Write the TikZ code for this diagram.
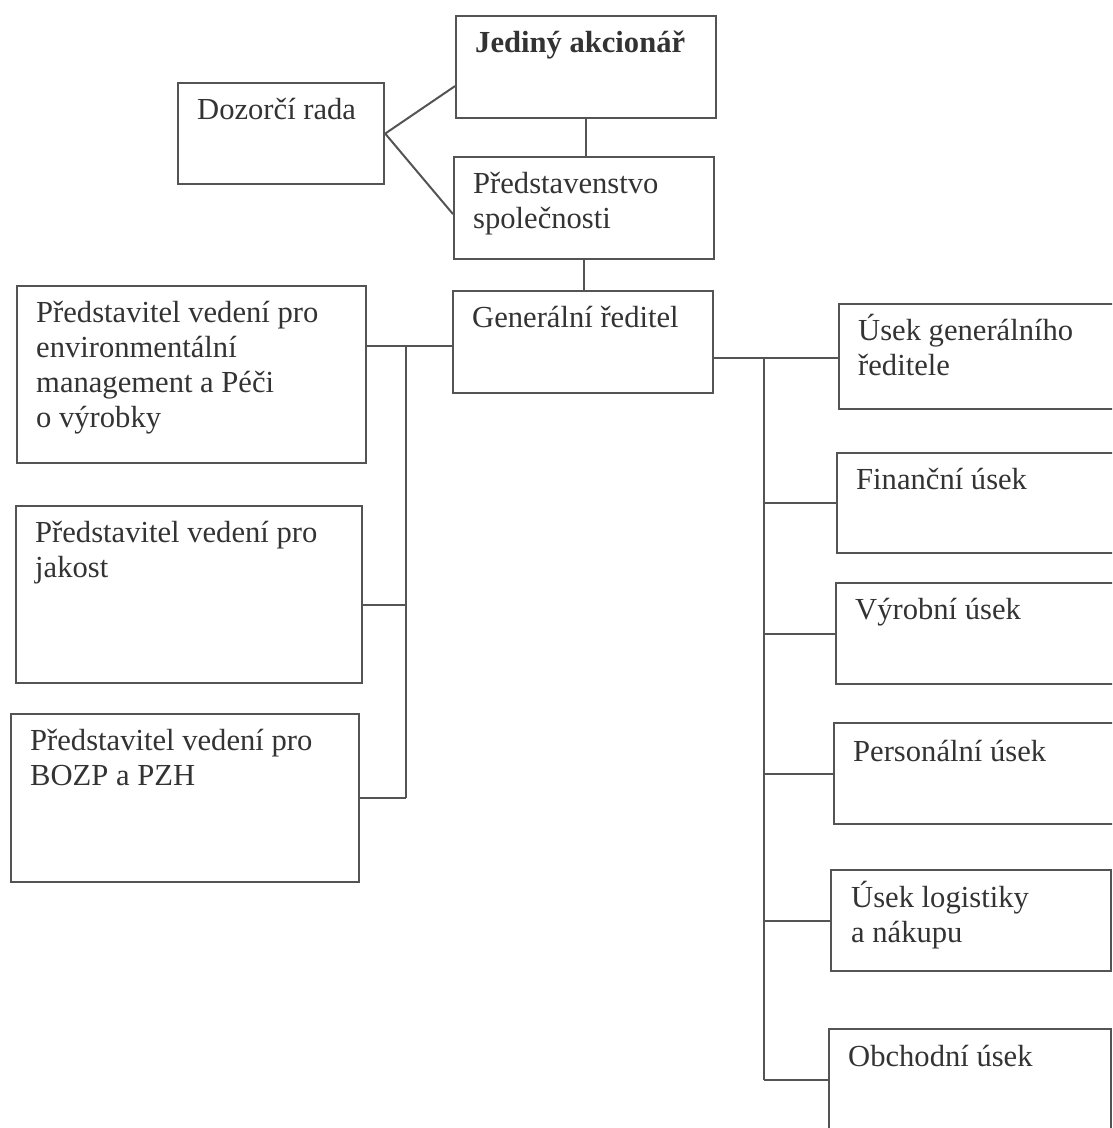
\documentclass[tikz,border=0pt]{standalone}
\usepackage{fontspec}
\setmainfont{Liberation Serif}
\definecolor{linegray}{gray}{0.33}
\definecolor{textgray}{gray}{0.2}
\newcommand{\boxlines}[1]{\begin{tabular}[t]{@{}l@{}}#1\end{tabular}}
\tikzset{
	orgbox/.style={rectangle, draw=linegray, line width=2.2pt, anchor=north west, inner sep=0pt},
	boxtext/.style={anchor=base west, inner sep=0pt, text=textgray, font=\fontsize{30.6}{35}\selectfont},
	link/.style={draw=linegray, line width=2pt},
}
\begin{document}
\begin{tikzpicture}[x=1pt, y=-1pt]
	\useasboundingbox (0,0) rectangle (1112,1128);
	\clip (0,0) rectangle (1112,1128);
	\node at (455,15) [orgbox, minimum width=260pt, minimum height=102pt] (ja) {};
	\node at (453,156) [orgbox, minimum width=260pt, minimum height=102pt] (pr) {};
	\node at (452,290) [orgbox, minimum width=260pt, minimum height=102pt] (gr) {};
	\node at (177,82) [orgbox, minimum width=206pt, minimum height=101pt] (dr) {};
	\node at (16,285) [orgbox, minimum width=349pt, minimum height=177pt] (ems) {};
	\node at (15,505) [orgbox, minimum width=346pt, minimum height=177pt] (jak) {};
	\node at (10,713) [orgbox, minimum width=348pt, minimum height=168pt] (boz) {};
	\node at (838,303) [orgbox, minimum width=290pt, minimum height=105pt] (ugr) {};
	\node at (836,452) [orgbox, minimum width=290pt, minimum height=100pt] (fin) {};
	\node at (835,582) [orgbox, minimum width=290pt, minimum height=101pt] (vyr) {};
	\node at (833,722) [orgbox, minimum width=292pt, minimum height=101pt] (per) {};
	\node at (830,869) [orgbox, minimum width=280pt, minimum height=101pt] (log) {};
	\node at (828,1028) [orgbox, minimum width=282pt, minimum height=102pt] (obc) {};
	\node at ([shift={(20pt,-37pt)}]ja.north west) [boxtext] (ja-t) {\bfseries Jediný akcionář};
	\node at ([shift={(20pt,-37pt)}]pr.north west) [boxtext] (pr-t) {\boxlines{Představenstvo\\společnosti}};
	\node at ([shift={(20pt,-37pt)}]gr.north west) [boxtext] (gr-t) {Generální ředitel};
	\node at ([shift={(20pt,-37pt)}]dr.north west) [boxtext] (dr-t) {Dozorčí rada};
	\node at ([shift={(20pt,-37pt)}]ems.north west) [boxtext] (ems-t) {\boxlines{Představitel vedení pro\\environmentální\\management a Péči\\o výrobky}};
	\node at ([shift={(20pt,-37pt)}]jak.north west) [boxtext] (jak-t) {\boxlines{Představitel vedení pro\\jakost}};
	\node at ([shift={(20pt,-37pt)}]boz.north west) [boxtext] (boz-t) {\boxlines{Představitel vedení pro\\BOZP a PZH}};
	\node at ([shift={(20pt,-37pt)}]ugr.north west) [boxtext] (ugr-t) {\boxlines{Úsek generálního\\ředitele}};
	\node at ([shift={(20pt,-37pt)}]fin.north west) [boxtext] (fin-t) {Finanční úsek};
	\node at ([shift={(20pt,-37pt)}]vyr.north west) [boxtext] (vyr-t) {Výrobní úsek};
	\node at ([shift={(20pt,-39pt)}]per.north west) [boxtext] (per-t) {Personální úsek};
	\node at ([shift={(21pt,-38pt)}]log.north west) [boxtext] (log-t) {\boxlines{Úsek logistiky\\a nákupu}};
	\node at ([shift={(20pt,-38pt)}]obc.north west) [boxtext] (obc-t) {Obchodní úsek};
	\coordinate (lt) at (406,0);
	\coordinate (rt) at (764,0);
	\draw[link] ([yshift=-19pt]ja.west) -- (dr.east) -- ([yshift=-6pt]pr.west);
	\draw[link] (ja.south) -- (ja.south |- pr.north);
	\draw[link] (pr.south) -- (pr.south |- gr.north);
	\draw[link] ([yshift=-4pt]gr.west) -- ([yshift=-4pt]gr.west -| ems.east);
	\draw[link] ([yshift=-4pt]gr.west -| lt) -- (boz.east -| lt);
	\draw[link] ([yshift=-10pt]jak.east) -- ([yshift=-10pt]jak.east -| lt);
	\draw[link] (boz.east) -- (boz.east -| lt);
	\draw[link] ([yshift=-16pt]gr.east) -- ([yshift=-16pt]gr.east -| ugr.west);
	\draw[link] ([yshift=-16pt]gr.east -| rt) -- (obc.west -| rt);
	\foreach \n in {fin,vyr,per,log,obc}
		\draw[link] (\n.west -| rt) -- (\n.west);
\end{tikzpicture}
\end{document}
